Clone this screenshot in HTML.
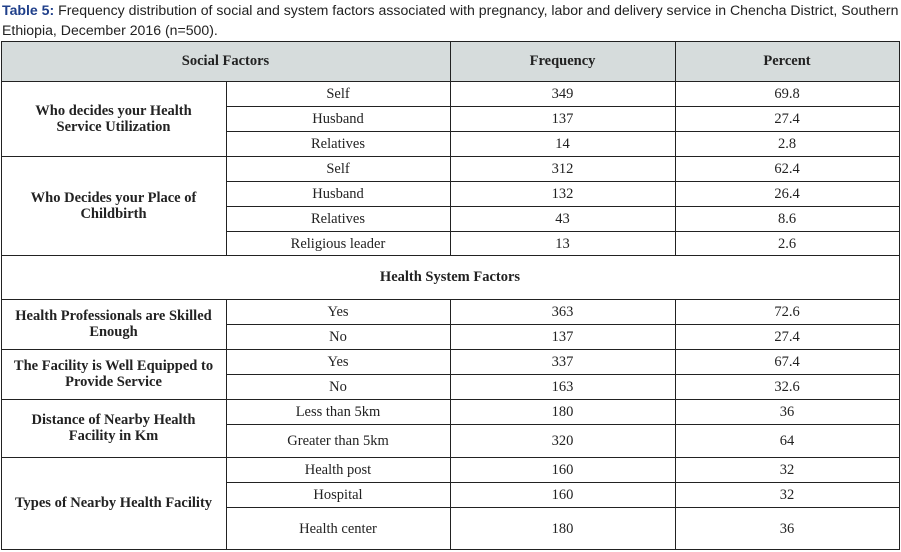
<!DOCTYPE html>
<html><head><meta charset="utf-8"><style>
body{margin:0;width:901px;height:552px;background:#fff;position:relative;overflow:hidden;font-family:"Liberation Serif",serif;color:#222}
.cap{position:absolute;left:2px;top:0;width:899px;font:14.1px/20px "Liberation Sans",sans-serif;color:#222;white-space:nowrap}
.cap b{color:#1f3f8a}
.c{position:absolute;display:flex;align-items:center;justify-content:center;text-align:center;font-size:14.5px;line-height:16px;box-sizing:border-box}
.b{font-weight:bold}
.h{position:absolute;background:#222}
</style></head><body>
<div class="cap"><b>Table 5:</b> Frequency distribution of social and system factors associated with pregnancy, labor and delivery service in Chencha District, Southern<br>Ethiopia, December 2016 (n=500).</div>
<div style="position:absolute;left:1px;top:41px;width:898px;height:40px;background:#d6dcdc"></div>
<script>
var body=document.body;
function cell(x1,y1,x2,y2,txt,b){var d=document.createElement('div');d.className='c'+(b?' b':'');d.style.left=x1+'px';d.style.top=y1+'px';d.style.width=(x2-x1)+'px';d.style.height=(y2-y1)+'px';d.innerHTML=txt;body.appendChild(d);}
function hl(x1,x2,y){var d=document.createElement('div');d.className='h';d.style.left=x1+'px';d.style.top=y+'px';d.style.width=(x2-x1+1)+'px';d.style.height='1px';body.appendChild(d);}
function vl(x,y1,y2){var d=document.createElement('div');d.className='h';d.style.left=x+'px';d.style.top=y1+'px';d.style.width='1px';d.style.height=(y2-y1+1)+'px';body.appendChild(d);}
cell(1,41,450,81,'Social Factors',1);cell(450,41,675,81,'Frequency',1);cell(675,41,899,81,'Percent',1);
hl(1,899,41);hl(1,899,81);vl(1,41,549);vl(899,41,549);vl(450,41,81);vl(675,41,81);
var groups=[
 ['Who decides your Health<br>Service Utilization',[[81,106,'Self','349','69.8'],[106,131,'Husband','137','27.4'],[131,156,'Relatives','14','2.8']]],
 ['Who Decides your Place of<br>Childbirth',[[156,181,'Self','312','62.4'],[181,206,'Husband','132','26.4'],[206,231,'Relatives','43','8.6'],[231,255,'Religious leader','13','2.6']]],
 null,
 ['Health Professionals are Skilled<br>Enough',[[299,324,'Yes','363','72.6'],[324,349,'No','137','27.4']]],
 ['The Facility is Well Equipped to<br>Provide Service',[[349,374,'Yes','337','67.4'],[374,399,'No','163','32.6']]],
 ['Distance of Nearby Health<br>Facility in Km',[[399,424,'Less than 5km','180','36'],[424,457,'Greater than 5km','320','64']]],
 ['Types of Nearby Health Facility',[[457,482,'Health post','160','32'],[482,507,'Hospital','160','32'],[507,549,'Health center','180','36']]]
];
groups.forEach(function(g){
 if(!g){cell(1,255,899,299,'Health System Factors',1);hl(1,899,255);hl(1,899,299);return;}
 var rs=g[1],y1=rs[0][0],y2=rs[rs.length-1][1];
 cell(1,y1,226,y2,g[0],1);
 vl(226,y1,y2);vl(450,y1,y2);vl(675,y1,y2);
 rs.forEach(function(r){cell(226,r[0],450,r[1]+1,r[2]);cell(450,r[0],675,r[1]+1,r[3]);cell(675,r[0],899,r[1]+1,r[4]);hl(226,899,r[1]);});
 hl(1,899,y2);
});
</script>
</body></html>
